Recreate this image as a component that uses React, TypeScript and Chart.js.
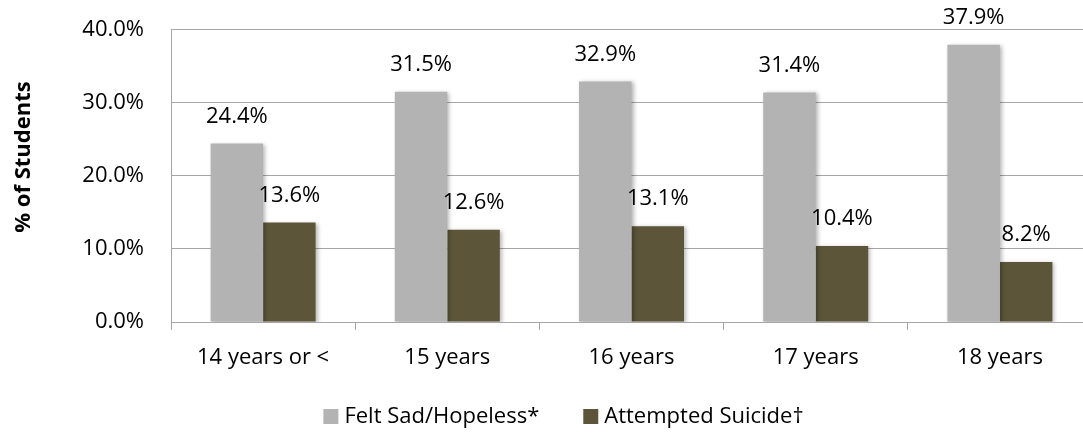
import { useEffect, useRef } from "react";
import { Chart, registerables } from "chart.js";

Chart.register(...registerables);

const categories = ["14 years or <", "15 years", "16 years", "17 years", "18 years"];
const feltSad = [24.4, 31.5, 32.9, 31.4, 37.9];
const attempted = [13.6, 12.6, 13.1, 10.4, 8.2];
const seriesNames = ["Felt Sad/Hopeless*", "Attempted Suicide†"];
const seriesColors = ["#b3b3b3", "#5c553a"];
const yTicks = [0, 10, 20, 30, 40];
const yTitle = "% of Students";

const FONT = "'Open Sans', sans-serif";
const FS = 22;
const GRID = "#a6a6a6";

export default function App() {
  const ref = useRef<HTMLCanvasElement>(null);

  useEffect(() => {
    if (!ref.current) return;

    const shadowPlugin = {
      id: "barShadow",
      beforeDatasetDraw(chart: any) {
        const ctx = chart.ctx;
        ctx.save();
        ctx.shadowColor = "rgba(0,0,0,0.28)";
        ctx.shadowBlur = 4;
        ctx.shadowOffsetX = 2;
        ctx.shadowOffsetY = 1;
      },
      afterDatasetDraw(chart: any) {
        chart.ctx.restore();
      },
    };

    const valueLabels = {
      id: "valueLabels",
      afterDatasetsDraw(chart: any) {
        const ctx = chart.ctx;
        ctx.save();
        ctx.font = `${FS}px ${FONT}`;
        ctx.fillStyle = "#000";
        ctx.textAlign = "center";
        ctx.textBaseline = "middle";
        chart.data.datasets.forEach((ds: any, i: number) => {
          const meta = chart.getDatasetMeta(i);
          meta.data.forEach((el: any, j: number) => {
            ctx.fillText(Number(ds.data[j]).toFixed(1) + "%", el.x, el.y - 27);
          });
        });
        ctx.restore();
      },
    };

    const yTitlePlugin = {
      id: "yTitle",
      afterDraw(chart: any) {
        const ctx = chart.ctx;
        ctx.save();
        ctx.translate(24, 157);
        ctx.rotate(-Math.PI / 2);
        ctx.font = `bold ${FS}px ${FONT}`;
        ctx.fillStyle = "#000";
        ctx.textAlign = "center";
        ctx.textBaseline = "middle";
        ctx.fillText(yTitle, 0, 0);
        ctx.restore();
      },
    };

    const legendPlugin = {
      id: "bottomLegend",
      afterDraw(chart: any) {
        const ctx = chart.ctx;
        ctx.save();
        ctx.font = `${FS}px ${FONT}`;
        ctx.textBaseline = "middle";
        ctx.textAlign = "left";
        const box = 15;
        const gapText = 6;
        const gapItem = 44;
        const items = chart.data.datasets.map((ds: any) => ({
          text: ds.label,
          color: ds.backgroundColor,
          w: ctx.measureText(ds.label).width,
        }));
        const total = items.reduce(
          (s: number, it: any, i: number) => s + box + gapText + it.w + (i > 0 ? gapItem : 0),
          0
        );
        let x = 563.5 - total / 2;
        const cy = 416.5;
        items.forEach((it: any) => {
          ctx.fillStyle = it.color;
          ctx.fillRect(x, cy - box / 2, box, box);
          ctx.fillStyle = "#000";
          ctx.fillText(it.text, x + box + gapText, cy);
          x += box + gapText + it.w + gapItem;
        });
        ctx.restore();
      },
    };

    const chart = new Chart(ref.current, {
      type: "bar",
      data: {
        labels: categories,
        datasets: [
          {
            label: seriesNames[0],
            data: feltSad,
            backgroundColor: seriesColors[0],
            categoryPercentage: 0.57,
            barPercentage: 1,
          },
          {
            label: seriesNames[1],
            data: attempted,
            backgroundColor: seriesColors[1],
            categoryPercentage: 0.57,
            barPercentage: 1,
          },
        ],
      },
      options: {
        responsive: false,
        animation: false,
        layout: { padding: { left: 79, top: 29.5, right: 0, bottom: 0 } },
        plugins: {
          tooltip: { enabled: false },
          legend: { display: false },
        },
        scales: {
          x: {
            grid: {
              drawOnChartArea: false,
              drawTicks: true,
              tickLength: 8,
              color: GRID,
              offset: true,
            },
            border: { color: GRID },
            ticks: {
              color: "#000",
              font: { family: FONT, size: FS },
              padding: 15,
              maxRotation: 0,
              autoSkip: false,
            },
            afterFit(scale: any) {
              scale.height = 112;
            },
          },
          y: {
            min: 0,
            max: 40,
            grid: { color: GRID, drawTicks: false },
            border: { color: GRID },
            ticks: {
              color: "#000",
              font: { family: FONT, size: FS },
              padding: 27,
              callback: (v: any) => Number(v).toFixed(1) + "%",
            },
            afterBuildTicks(scale: any) {
              scale.ticks = yTicks.map((v) => ({ value: v }));
            },
            afterFit(scale: any) {
              scale.width = 92;
              scale.paddingTop = 0;
              scale.paddingBottom = 0;
            },
          },
        },
      },
      plugins: [shadowPlugin, valueLabels, yTitlePlugin, legendPlugin],
    });

    return () => chart.destroy();
  }, []);

  return (
    <div
      style={{
        position: "fixed",
        left: 0,
        top: 0,
        width: 1083,
        height: 434,
        overflow: "hidden",
        background: "#fff",
      }}
    >
      <canvas ref={ref} width={1092} height={434} style={{ display: "block" }} />
    </div>
  );
}
